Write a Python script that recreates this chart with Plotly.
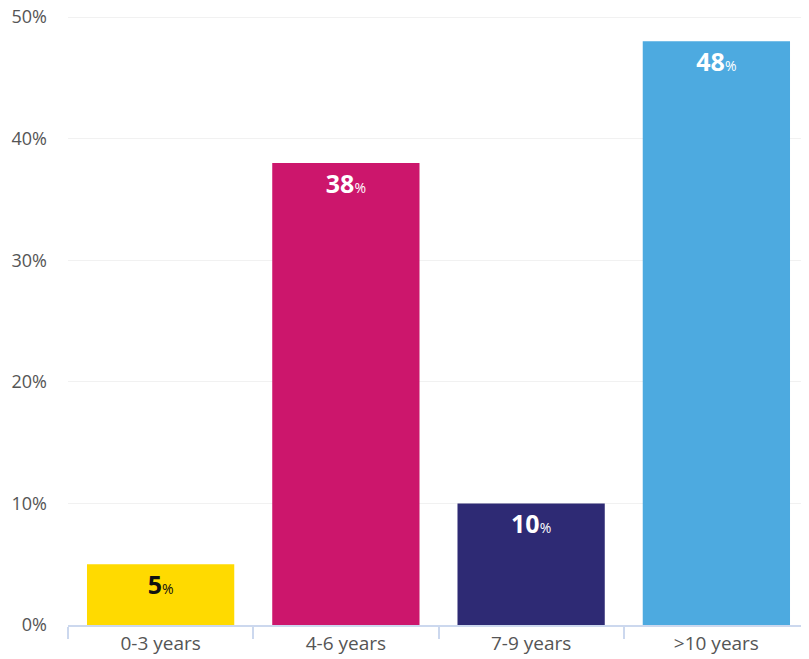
import plotly.graph_objects as go

categories = ["0-3 years", "4-6 years", "7-9 years", ">10 years"]
values = [5, 38, 10, 48]
colors = ["#FFDA00", "#CC166C", "#2E2A74", "#4DAAE0"]
text_colors = ["#111111", "#FFFFFF", "#FFFFFF", "#FFFFFF"]

labels = [f"<b>{v}</b><span style='font-size:14px'>%</span>" for v in values]

fig = go.Figure(go.Bar(
    x=categories,
    y=values,
    marker=dict(color=colors, line=dict(width=0)),
    text=labels,
    textposition="inside",
    insidetextanchor="end",
    textangle=0,
    constraintext="none",
    textfont=dict(family="Open Sans", size=25, color=text_colors),
    hoverinfo="skip",
))

# page body has an 8px default margin, so the figure is sized/offset to compensate
fig.update_layout(
    width=801, height=651,
    margin=dict(l=60, r=0, t=6, b=34),
    paper_bgcolor="white",
    plot_bgcolor="white",
    bargap=0.205,
    showlegend=False,
    font=dict(family="Open Sans", color="#555555", size=17),
)

fig.update_xaxes(
    automargin=False,
    showline=True, linecolor="#CCD8EE", linewidth=1.5,
    ticks="outside", tickson="boundaries", ticklen=12, tickcolor="#CCD8EE", tickwidth=1.5,
    tickfont=dict(size=19, color="#555555"),
    showgrid=False,
)
fig.update_yaxes(
    automargin=False,
    range=[0, 50.25],
    tickvals=[0, 10, 20, 30, 40, 50],
    ticktext=["0%", "10%", "20%", "30%", "40%", "50%"],
    showgrid=True, gridcolor="#F1F1F1", gridwidth=1,
    zeroline=False, showline=False,
    ticks="", ticklabelstandoff=20, ticklabeloverflow="allow",
    tickfont=dict(size=18, color="#555555"),
)

fig.write_html("out.html")
